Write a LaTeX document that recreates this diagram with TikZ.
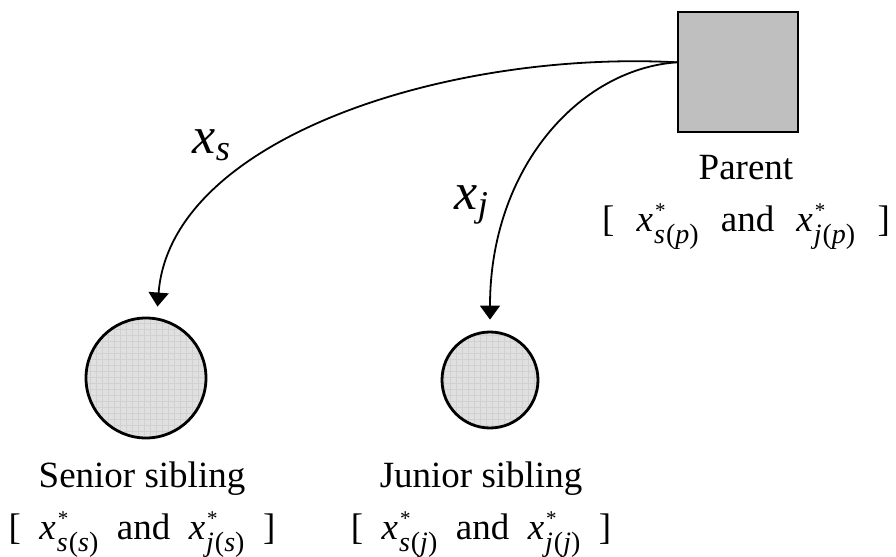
\documentclass[tikz,border=0pt]{standalone}
\usepackage{amsmath}
\usepackage{fontspec}
\setmainfont{Liberation Serif}
\usetikzlibrary{arrows.meta,positioning,patterns}

% x* with a two-letter subscript, star set above the subscript
\newcommand{\xopt}[2]{\textit{x}\kern0.5pt%
  \rlap{\raisebox{7pt}{\fontsize{10.5}{10.5}\selectfont\kern0.5pt*}}%
  \raisebox{-6pt}{\fontsize{14}{14}\selectfont\itshape #1\kern0.5pt\upshape(\itshape #2\/\upshape)}}
\newcommand{\sepgap}{\hspace{0.5em}}

\begin{document}
\begin{tikzpicture}[
      x=0.5pt, y=-0.5pt,
      parentbox/.style={rectangle, draw, line width=1.2pt, fill=black!25,
                        minimum size=60pt, inner sep=0pt},
      sib/.style={circle, draw, line width=1.4pt, inner sep=0pt,
                  preaction={fill=black!12}, pattern=grid, pattern color=black!18},
      arr/.style={-{Triangle[width=10pt,length=7pt]}, line width=0.9pt, shorten >=5.5pt},
      txt/.style={align=center, inner sep=0pt, font=\fontsize{18.5}{26}\selectfont},
      flow/.style={inner sep=0pt, font=\fontsize{26}{30}\selectfont},
    ]
    \useasboundingbox (0,0) rectangle (896,557);

    % Parent and the two siblings
    \node[parentbox] (parent) at (738,72) {};
    \node[sib, minimum size=60pt] (senior) at (146,378) {};
    \node[sib, minimum size=48pt] (junior) at (490,380) {};

    % Captions
    \node[txt, below=11pt of parent, xshift=4pt] (parentlbl)
      {Parent\\{[}\hspace{0.6em}\xopt{s}{p}\hspace{0.6em}and\hspace{0.6em}\xopt{j}{p}\hspace{0.6em}]};
    \node[txt, below=11pt of senior, xshift=-2pt] (seniorlbl)
      {Senior sibling\\{[}\sepgap\xopt{s}{s}\sepgap and\sepgap\xopt{j}{s}\sepgap]};
    \node[txt, anchor=north, xshift=-4.5pt] (juniorlbl) at (seniorlbl.north -| junior)
      {Junior sibling\\{[}\sepgap\xopt{s}{j}\sepgap and\sepgap\xopt{j}{j}\sepgap]};

    % Transfers from the parent
    \draw[arr] (parent.171) .. controls +(-230,-12) and +(14,-179) .. (senior.80);
    \draw[arr] (parent.171) .. controls +(-98,7) and +(0,-162) .. (junior.north);

    % Transfer labels
    \node[flow] (xs) at (212,145) {$\textit{x}_{\textit{s}}$};
    \node[flow] (xj) at (472,205) {$\textit{x}_{\textit{j}}$};

\end{tikzpicture}
\end{document}
